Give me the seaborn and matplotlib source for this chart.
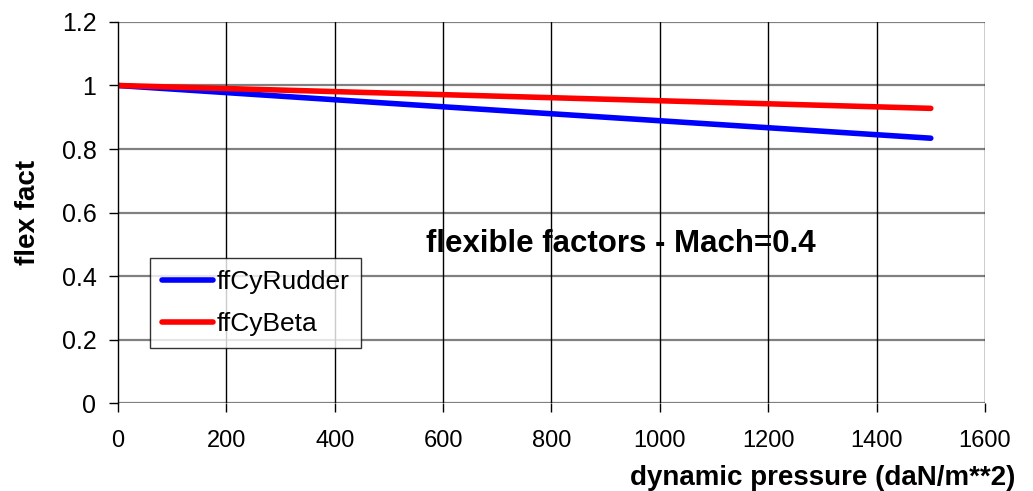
import pandas as pd
import matplotlib
matplotlib.use('Agg')
import matplotlib.pyplot as plt
import seaborn as sns

pressure = [0, 500, 1000, 1500]
ff_cy_rudder = [1.0, 0.944, 0.889, 0.834]
ff_cy_beta = [1.0, 0.976, 0.952, 0.928]

series_names = ['ffCyRudder', 'ffCyBeta']
x_ticks = [0, 200, 400, 600, 800, 1000, 1200, 1400, 1600]
y_ticks = [0, 0.2, 0.4, 0.6, 0.8, 1.0, 1.2]
y_tick_labels = ['0', '0.2', '0.4', '0.6', '0.8', '1', '1.2']

df = pd.DataFrame({
    'q': pressure * 2,
    'ff': ff_cy_rudder + ff_cy_beta,
    'series': [series_names[0]] * len(pressure) + [series_names[1]] * len(pressure),
})

sns.set_style('white')
plt.rcParams['font.family'] = ['Liberation Sans', 'DejaVu Sans']
plt.rcParams['text.color'] = 'black'
plt.rcParams['axes.labelcolor'] = 'black'

fig = plt.figure(figsize=(10.33, 4.91), dpi=100)
ax = fig.add_axes([0.1142, 0.1792, 0.8393, 0.776])

sns.lineplot(data=df, x='q', y='ff', hue='series', hue_order=series_names,
             palette=['#0000ff', '#ff0000'], linewidth=4, ax=ax,
             solid_capstyle='round')

ax.set_xlim(0, 1600)
ax.set_ylim(0, 1.2)
ax.set_xticks(x_ticks)
ax.set_yticks(y_ticks)
ax.set_yticklabels(y_tick_labels, fontsize=18)
ax.set_xticklabels([str(t) for t in x_ticks], fontsize=17)

# grid: gray horizontals, black verticals
for y in y_ticks:
    ax.axhline(y, color='#808080', lw=1.6, zorder=0)
for x in x_ticks[1:]:
    ax.axvline(x, color='black', lw=1, zorder=0)

for s in ['top', 'right', 'bottom']:
    ax.spines[s].set_visible(False)
ax.spines['left'].set_color('black')
ax.spines['left'].set_linewidth(1)

ax.tick_params(axis='both', direction='out', length=6.5, width=1, colors='black',
               labelcolor='black', bottom=True, left=True)
ax.tick_params(axis='x', pad=13)
ax.tick_params(axis='y', pad=9)

ax.set_ylabel('flex fact', fontsize=20, fontweight='bold')
ax.yaxis.set_label_coords(-0.089, 0.5)
ax.set_xlabel('dynamic pressure (daN/m**2)', fontsize=20, fontweight='bold')
ax.xaxis.set_label_coords(1.0346, -0.162)
ax.xaxis.label.set_horizontalalignment('right')

ax.text(928, 0.5, 'flexible factors - Mach=0.4', fontsize=22.5, fontweight='bold',
        ha='center', va='center', color='black')

leg = ax.legend(loc='upper left', bbox_to_anchor=(0.0369, 0.3806), fontsize=19,
                frameon=True, fancybox=False, edgecolor='black',
                handlelength=1.95, borderpad=0.45, labelspacing=0.7,
                handletextpad=0.12, borderaxespad=0)
leg.get_frame().set_linewidth(1)
for t in leg.get_texts():
    t.set_color('black')
for h in leg.get_lines():
    h.set_linewidth(4)

fig.savefig('out.png', dpi=100)
